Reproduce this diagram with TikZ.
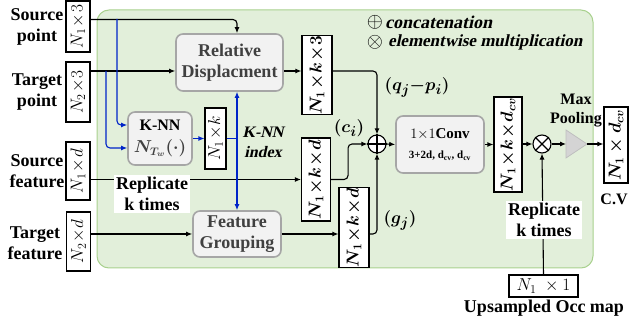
\documentclass[tikz,border=0pt]{standalone}
\usepackage{fontspec}
\setmainfont{Liberation Serif}
\newfontfamily\slfont{Liberation Serif}[FakeSlant=0.22]
\usepackage{amsmath,bm}
\usetikzlibrary{arrows.meta,calc}
\definecolor{bgfill}{RGB}{226,239,218}
\definecolor{bgdraw}{RGB}{169,209,142}
\definecolor{boxfill}{RGB}{242,242,242}
\definecolor{boxdraw}{RGB}{166,166,166}
\definecolor{boxtext}{RGB}{64,64,64}
\definecolor{knnblue}{RGB}{0,36,200}
\definecolor{poolgray}{RGB}{212,212,212}
\definecolor{pooldraw}{RGB}{190,190,190}
\newcommand\fsz[2]{\fontsize{#1}{#2}\selectfont}
\begin{document}
\begin{tikzpicture}[x=1pt,y=-1pt,
  dimbox/.style={draw=black, line width=1.1pt, fill=white, inner sep=0pt, font=\fsz{17}{17}},
  procbox/.style={draw=boxdraw, line width=1.6pt, fill=boxfill, rounded corners=7pt, align=center, inner sep=0pt, font=\bfseries\fsz{18}{21}, text=boxtext},
  lbl/.style={align=center, font=\bfseries\fsz{18}{21}, inner sep=0pt},
  arr/.style={-{Latex[length=6pt,width=5pt]}, line width=1.1pt, rounded corners=4pt},
  plain/.style={line width=1.1pt, rounded corners=4pt},
  barr/.style={arr, draw=knnblue},
  bline/.style={plain, draw=knnblue},
  opc/.style={circle, draw=black, line width=1.1pt, fill=white, minimum size=18pt, inner sep=0pt},
  whitelbl/.style={lbl, fill=white, inner sep=2pt},
]
\useasboundingbox (0,0) rectangle (633,323);
% background panel
\node[draw=bgdraw, fill=bgfill, line width=1pt, rounded corners=12pt, minimum width=496pt, minimum height=258pt, inner sep=0pt] (bg) at (345,139) {};

% input labels
\node[lbl] (lsp) at (37,27) {Source\\point};
\node[lbl] (ltp) at (37,92) {Target\\point};
\node[lbl] (lsf) at (37,171) {Source\\feature};
\node[lbl] (ltf) at (35,243) {Target\\feature};

% dimension boxes
\node[dimbox, minimum width=24pt, minimum height=51pt] (sp) at (78,26.5) {\rotatebox{90}{$N_1\!\times\!3$}};
\node[dimbox, minimum width=24pt, minimum height=60pt] (tp) at (78,92) {\rotatebox{90}{$N_2\!\times\!3$}};
\node[dimbox, minimum width=24pt, minimum height=58pt] (sf) at (78,171) {\rotatebox{90}{$N_1\!\times\!d$}};
\node[dimbox, minimum width=24pt, minimum height=59pt] (tf) at (78.5,241.5) {\rotatebox{90}{$N_2\!\times\!d$}};
\node[dimbox, minimum width=21pt, minimum height=61pt] (knnk) at (215.5,138.5) {\rotatebox{90}{$N_1\!\times\!k$}};
\node[dimbox, minimum width=30pt, minimum height=74pt] (rd3) at (317,75) {\rotatebox{90}{$\bm{N_1\!\times\!k\!\times\!3}$}};
\node[dimbox, minimum width=29pt, minimum height=83pt] (cf) at (316,179.5) {\rotatebox{90}{$\bm{N_1\!\times\!k\!\times\!d}$}};
\node[dimbox, minimum width=30pt, minimum height=79pt] (gf) at (354,227.5) {\rotatebox{90}{$\bm{N_1\!\times\!k\!\times\!d}$}};
\node[dimbox, minimum width=28pt, minimum height=95pt] (cv) at (508,144.5) {\rotatebox{90}{$\bm{N_1\!\times\!k\!\times\!d_{cv}}$}};
\node[dimbox, minimum width=24pt, minimum height=76pt] (out) at (616,145) {\rotatebox{90}{$\bm{N_1\times d_{cv}}$}};
\node[dimbox, minimum width=69pt, minimum height=22pt] (occ) at (543.5,286) {$N_1\;\times 1$};

% processing boxes
\node[procbox, minimum width=107pt, minimum height=57pt] (rel) at (229.5,62.5) {Relative\\Displacment};
\node[procbox, minimum width=88pt, minimum height=46pt] (fg) at (237,234) {Feature\\Grouping};
\node[procbox, minimum width=64pt, minimum height=53pt, font=\fsz{16}{22}, text=black] (knn) at (160,138.5) {\textbf{K-NN}\\\textcolor{boxtext}{$\bm{N_{T_w}(\cdot)}$}};
\node[procbox, minimum width=88pt, minimum height=57pt, text=black, font=\fsz{15}{24}] (conv) at (440,144.5) {$1{\times}1$\textbf{Conv}\\[-4pt]{\bfseries\fsz{11}{12}3+2d, d\textsubscript{cv}, d\textsubscript{cv}}};

% operators
\node[opc] (plus) at (377,144) {};
\draw[line width=1.1pt] (plus.north) -- (plus.south) (plus.west) -- (plus.east);
\node[opc] (times) at (542,144) {};
\draw[line width=1.1pt] (times.north east) -- (times.south west) (times.north west) -- (times.south east);

% max pooling triangle
\coordinate (mpL) at (566,144);
\coordinate (mpR) at (587,144);
\draw[draw=pooldraw, fill=poolgray, line width=0.8pt] (566,130) -- (587,144) -- (566,158) -- cycle;
\node[lbl, font=\bfseries\fsz{16}{19}] (lmp) at (576,111) {Max\\Pooling};
\node[lbl, font=\bfseries\fsz{16}{19}] (lcv) at (614,199) {C.V};

% black connectors
\draw[arr] ([yshift=7pt]sp.east) -| (fg.north |- rel.north);
\draw[arr] ([yshift=21pt]tp.east) -- ([yshift=21pt]tp.east -| rel.west);
\draw[arr] ([yshift=-8.5pt]rel.east) -- ([yshift=-8.5pt]rel.east -| rd3.west);
\draw[arr] ([yshift=4pt]rd3.east) -| (plus.north);
\draw[arr] (sf.east |- cf.west) -- (cf.west);
\draw[arr] (cf.east) -- ++(17,0) |- (plus.west);
\draw[arr] (tf.east |- fg.west) -- (fg.west);
\draw[arr] (fg.east) -- (gf.west |- fg.east);
\draw[arr] (gf.east |- fg.east) -| (plus.south);
\draw[arr] (plus.east) -- (conv.west);
\draw[arr] (conv.east) -- (cv.west |- conv.east);
\draw[arr] (cv.east |- times.west) -- (times.west);
\draw[arr] (times.east) -- (mpL);
\draw[arr] (mpR) -- (out.west |- mpR);
\draw[arr] (occ.north) -- (times.south);

% blue K-NN connectors
\coordinate (b1) at (117,19);
\coordinate (b2) at (106,71);
\draw[barr] (b1) |- ([yshift=13.5pt]knn.west);
\draw[barr] (b2) |- ([yshift=-9.5pt]knn.west);
\draw[barr] (knn.east) -- (knnk.west);
\coordinate (kj) at (fg.north |- knnk.east);
\draw[bline] (knnk.east) -- (kj);
\draw[barr] (kj) -- (fg.north |- rel.south);
\draw[barr] (kj) -- (fg.north);
\node[lbl, font=\slfont\bfseries\fsz{16}{20}] (lidx) at (263,142) {K-NN\\index};

% replicate labels
\node[whitelbl] (rep1) at (152,194) {Replicate\\k times};
\node[whitelbl] (rep2) at (544,220) {Replicate\\k times};
\node[lbl, font=\bfseries\fsz{18}{20}] (locc) at (544,308) {Upsampled Occ map};

% math labels
\node[inner sep=0pt, font=\fsz{19}{19}] (lq) at (417,87) {$\bm{(q_j{-}p_i)}$};
\node[inner sep=0pt, font=\fsz{19}{19}] (lc) at (349,128) {$\bm{(c_i)}$};
\node[inner sep=0pt, font=\fsz{19}{19}] (lg) at (400,220) {$\bm{(g_j)}$};

% legend
\node[inner sep=0pt, font=\fsz{21}{21}] (lgp) at (375,22) {$\oplus$};
\node[anchor=west, inner sep=0pt, font=\slfont\bfseries\fsz{18}{18}] (lgpt) at (385,22) {concatenation};
\node[inner sep=0pt, font=\fsz{21}{21}] (lgt) at (375,42) {$\otimes$};
\node[anchor=west, inner sep=0pt, font=\slfont\bfseries\fsz{17}{17}] (lgtt) at (388,42) {elementwise multiplication};
\end{tikzpicture}
\end{document}
